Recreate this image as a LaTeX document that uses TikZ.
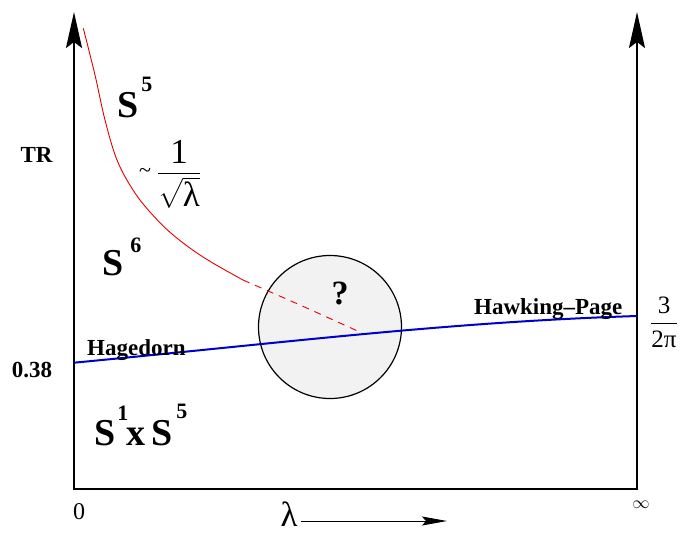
\documentclass[tikz,border=0pt]{standalone}
\usepackage{amsmath}
\usepackage{fontspec}
\setmainfont{Liberation Serif}
\usetikzlibrary{arrows.meta}
\newcommand{\spow}[2]{\raisebox{#1}{\bfseries\fontsize{22}{24}\selectfont #2}}
\tikzset{
  axis/.style={line width=2.2pt,line join=miter,
    {Stealth[length=36pt,width=16pt,inset=6pt]}-{Stealth[length=36pt,width=16pt,inset=6pt]}},
  phase/.style={font=\bfseries\fontsize{38}{42}\selectfont,inner sep=0pt,anchor=base west},
  lbl/.style={font=\bfseries\fontsize{23}{27}\selectfont,inner sep=0pt},
  redcurve/.style={red!90!black,line width=0.9pt},
  bluecurve/.style={blue!80!black,line width=2pt},
}
\begin{document}
\begin{tikzpicture}[x=1pt,y=-1pt]
    \useasboundingbox (0,0) rectangle (682,533);
    % the region nobody knows
    \node[draw,circle,fill=black!5,line width=1.2pt,minimum size=143pt,inner sep=0pt] (unk) at (330,327) {};
    \node[font=\bfseries\fontsize{34}{38}\selectfont,inner sep=0pt] (qm) at (340,293.5) {?};
    % axes
    \coordinate (O) at (74,489);
    \coordinate (Otop) at (74,12);
    \coordinate (Rb) at (637,489);
    \coordinate (Rtop) at (637,12);
    \draw[axis] (Otop) -- (O) -- (Rb) -- (Rtop);
    % transition lines
    \draw[redcurve] plot[smooth,tension=0.6] coordinates {(83.3,28.3) (95,75) (105,120) (117,160)
      (133,190) (150,212) (172,234) (203,257) (243,280)};
    \draw[redcurve,dash pattern=on 7pt off 6pt] plot[smooth] coordinates {(243,280) (300,305) (362,333)};
    \coordinate (hagL) at (74,362.7);
    \coordinate (hpR) at (637,316);
    \draw[bluecurve] (hagL) .. controls (300,341) and (450,322) .. (hpR);
    % phases
    \node[phase] (sfive) at (117,117) {S\hspace{3pt}\spow{26pt}{5}};
    \node[phase] (ssix) at (102,275) {S\hspace{7pt}\spow{23pt}{6}};
    \node[phase] (sonefive) at (94,445) {S\hspace{2pt}\spow{25pt}{1}\hspace{-2pt}x\hspace{6pt}S\hspace{4pt}\spow{27pt}{5}};
    % labels
    \node[lbl] (tr) at (36.5,154.5) {TR};
    \node[lbl] (tc) at (32,370.5) {0.38};
    \node[lbl,anchor=base west] (hag) at (87,355) {Hagedorn};
    \node[lbl,anchor=base west] (hp) at (474,314) {Hawking--Page};
    \node[inner sep=0pt,font=\fontsize{25}{30}\selectfont] (hpval) at (664,322) {$\dfrac{\text{3}}{\text{2π}}$};
    \node[inner sep=0pt,font=\fontsize{22}{24}\selectfont] (tl) at (145,173) {\textasciitilde};
    \node[inner sep=0pt,font=\fontsize{35}{40}\selectfont] (slope) at (179,174) {$\dfrac{\text{1}}{\sqrt{\text{λ}}}$};
    \node[inner sep=0pt,font=\fontsize{24}{28}\selectfont] (zero) at (79,511.5) {0};
    \node[inner sep=0pt] (inf) at (641,504.5) {\fontsize{18}{20}\selectfont$\infty$};
    \node[inner sep=0pt,font=\fontsize{35}{40}\selectfont] (lam) at (289,514) {λ};
    \coordinate (lamtip) at (447,521);
    \draw[line width=1pt,-{Stealth[length=25pt,width=9pt,inset=4pt]}] ([xshift=3pt]lam.east |- lamtip) -- (lamtip);
\end{tikzpicture}
\end{document}
